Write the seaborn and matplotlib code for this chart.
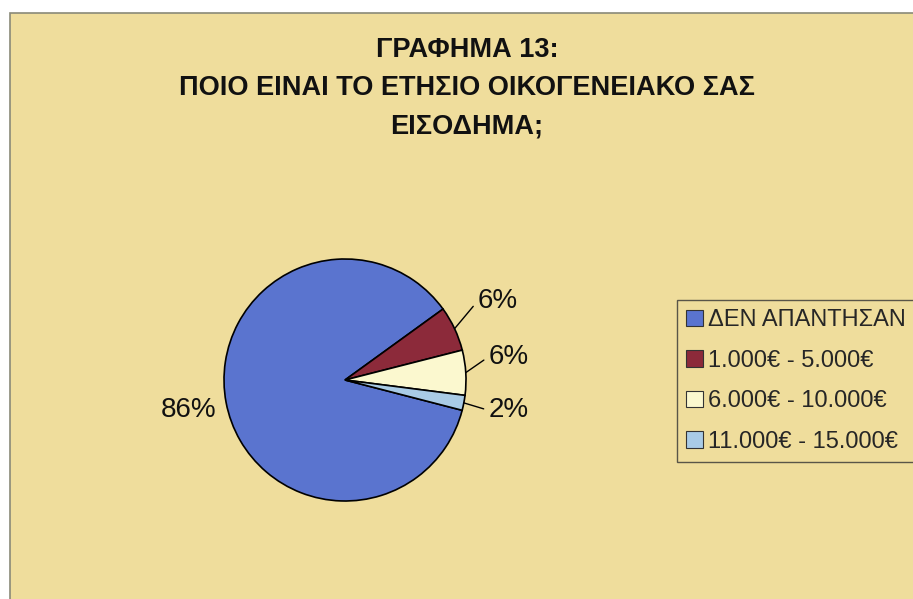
import matplotlib
matplotlib.use('Agg')
import matplotlib.pyplot as plt
import seaborn as sns
from matplotlib.patches import Rectangle
import numpy as np

# Data
categories = ['ΔΕΝ ΑΠΑΝΤΗΣΑΝ', '1.000€ - 5.000€', '6.000€ - 10.000€', '11.000€ - 15.000€']
shares = [86, 6, 6, 2]
pct_labels = ['86%', '6%', '6%', '2%']
title_lines = ['ΓΡΑΦΗΜΑ 13:', 'ΠΟΙΟ ΕΙΝΑΙ ΤΟ ΕΤΗΣΙΟ ΟΙΚΟΓΕΝΕΙΑΚΟ ΣΑΣ', 'ΕΙΣΟΔΗΜΑ;']

sns.set_theme(style='white')
plt.rcParams['font.family'] = ['Liberation Sans', 'DejaVu Sans']

colors = sns.color_palette(['#5a74cf', '#8c2a3a', '#fbf8cf', '#a9cbe6'])
bg = '#efdd9c'

fig = plt.figure(figsize=(9.13, 5.99), dpi=100)
fig.patch.set_facecolor('white')

# parchment chart area with a thin grey border
W, H = 913, 599
fig.add_artist(Rectangle((10 / W, -0.01), 1.01 - 10 / W, 1.01 - 13 / H, transform=fig.transFigure,
                         facecolor=bg, edgecolor='#8a8a78', linewidth=1.2, zorder=0))

# title
for i, line in enumerate(title_lines):
    fig.text(467 / W, 1 - (50 + 38 * i) / H, line, ha='center', va='center',
             fontsize=19.5, fontweight='bold', color='#111111')

# pie axes: centre (345, 380), radius 121 px
cx, cy, r = 345, 380, 121
ax = fig.add_axes([(cx - r) / W, 1 - (cy + r) / H, 2 * r / W, 2 * r / H])
wedges, _ = ax.pie(shares, colors=colors, startangle=-14.5, counterclock=False,
                   wedgeprops=dict(edgecolor='black', linewidth=1.2))
ax.set_xlim(-1, 1)
ax.set_ylim(-1, 1)
ax.set_aspect('auto')
ax.axis('off')
ax.patch.set_alpha(0)

# label positions (axes data units, relative to pie)
text_pos = [(-1.29, -0.25), (1.26, 0.65), (1.35, 0.19), (1.35, -0.25)]
for w, lab, pos in zip(wedges, pct_labels, text_pos):
    mid = np.deg2rad((w.theta1 + w.theta2) / 2)
    if lab == '86%':
        ax.text(pos[0], pos[1], lab, ha='center', va='center', fontsize=20, color='#111111')
        continue
    edge = (np.cos(mid), np.sin(mid))
    ax.annotate(lab, xy=edge, xytext=pos, ha='center', va='center', fontsize=20,
                color='#111111', annotation_clip=False,
                arrowprops=dict(arrowstyle='-', color='black', lw=1, relpos=(0, 0.5),
                                shrinkA=1, shrinkB=0))

# legend
handles = [Rectangle((0, 0), 1, 1, facecolor=c, edgecolor='#333333', linewidth=0.8) for c in colors]
leg = fig.legend(handles, categories, loc='upper left', bbox_to_anchor=(677 / W, 1 - 300 / H),
                 fontsize=17, frameon=True, fancybox=False, handlelength=0.7, handleheight=0.7,
                 handletextpad=0.2, labelspacing=0.78, borderpad=0.4, borderaxespad=0)
leg.get_frame().set_facecolor(bg)
leg.get_frame().set_edgecolor('#333333')
leg.get_frame().set_linewidth(1)

plt.savefig('out.png', dpi=100, facecolor=fig.get_facecolor())
